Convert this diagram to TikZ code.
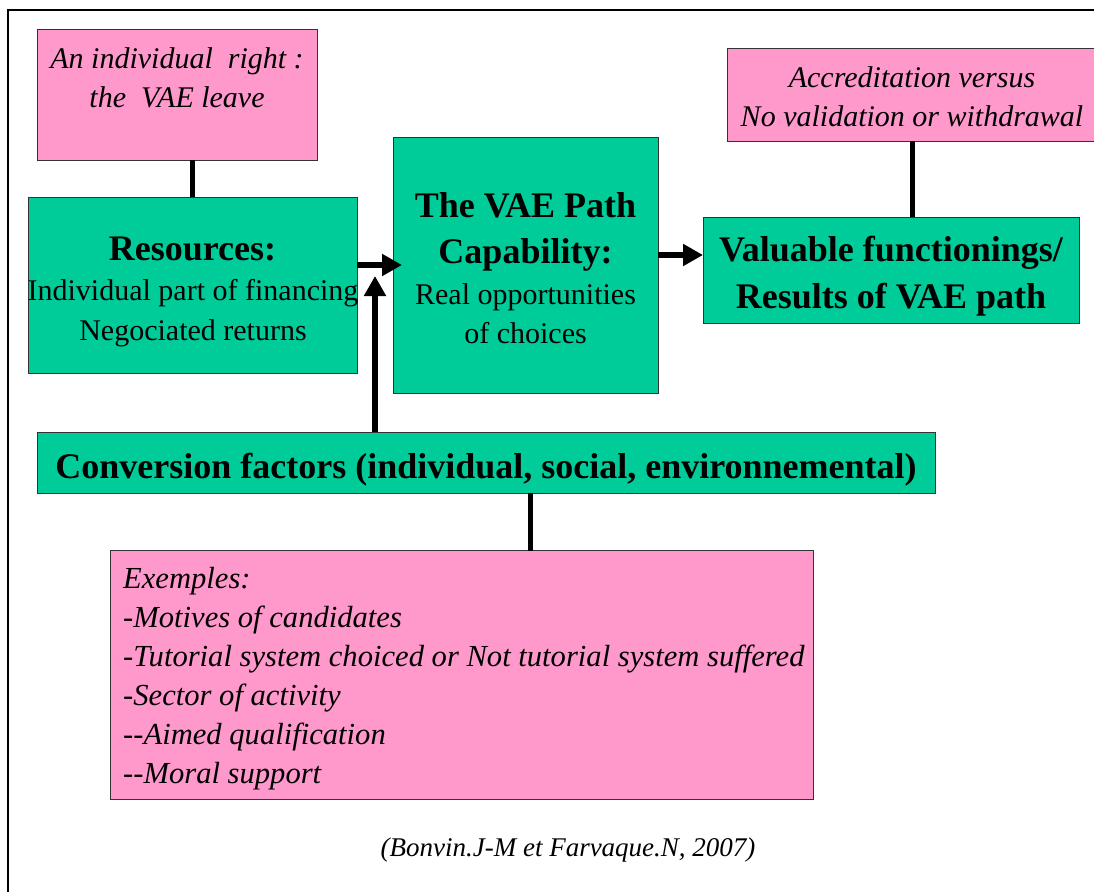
\documentclass[tikz,border=0pt]{standalone}
\usepackage{fontspec}
\setmainfont{Liberation Serif}
\usetikzlibrary{arrows.meta}
\definecolor{vgreen}{HTML}{00CC99}
\definecolor{vpink}{HTML}{FF99CC}
\definecolor{edge}{HTML}{333333}
\begin{document}
\begin{tikzpicture}[x=1pt,y=-1pt,
  box/.style={draw=edge, line width=1pt, inner sep=0pt, outer sep=0pt},
  gbox/.style={box, fill=vgreen},
  pbox/.style={box, fill=vpink},
  linkline/.style={line width=5pt},
  arr/.style={line width=5.5pt, -{Triangle[length=20pt,width=21pt]}},
  bt/.style={anchor=base, inner sep=0pt, font=\fontsize{36}{40}\selectfont\bfseries},
  rt/.style={anchor=base, inner sep=0pt, font=\fontsize{30}{36}\selectfont},
  itx/.style={anchor=base, inner sep=0pt, font=\fontsize{30}{36}\selectfont\itshape},
  itl/.style={anchor=base west, inner sep=0pt, font=\fontsize{30.6}{36}\selectfont\itshape},
  cit/.style={anchor=base, inner sep=0pt, font=\fontsize{27}{32}\selectfont\itshape},
]
\useasboundingbox (0,0) rectangle (1094,891);
\fill[white] (0,0) rectangle (1094,891);
\clip (0,0) rectangle (1094,891);
% outer frame (open to the right and bottom)
\draw[line width=2pt] (8,10) rectangle (1200,1000);

% boxes
\node[pbox, minimum width=280pt, minimum height=130pt] (p1) at (177,95) {};
\node[gbox, minimum width=329pt, minimum height=176pt] (res) at (192.5,285) {};
\node[gbox, minimum width=265pt, minimum height=256pt] (vae) at (525.5,265) {};
\node[gbox, minimum width=376pt, minimum height=106pt] (val) at (891,270) {};
\node[pbox, minimum width=370pt, minimum height=92pt] (p2) at (912,95) {};
\node[gbox, minimum width=898pt, minimum height=61pt] (conv) at (486,462.5) {};
\node[pbox, minimum width=703pt, minimum height=249pt] (ex) at (461.5,675) {};

% texts
\node[itx] (p1a) at (177,68) {An individual\ \ right :};
\node[itx] (p1b) at (177,107) {the\ \ VAE leave};

\node[bt] (resa) at (192.5,260) {Resources:};
\node[rt] (resb) at (193,300) {Individual part of financing};
\node[rt] (resc) at (193,340) {Negociated returns};

\node[bt] (vaea) at (525.5,217) {The VAE Path};
\node[bt] (vaeb) at (525.5,263) {Capability:};
\node[rt] (vaec) at (525.5,304) {Real opportunities};
\node[rt] (vaed) at (525.5,343) {of choices};

\node[bt] (vala) at (891,261) {Valuable functionings/};
\node[bt] (valb) at (891,308) {Results of VAE path};

\node[itx] (p2a) at (912,88) {Accreditation versus};
\node[itx] (p2b) at (912,126) {No validation or withdrawal};

\node[bt] (conva) at (486,478) {Conversion factors (individual, social, environnemental)};

\node[itl] (exa) at (123,588) {Exemples:};
\node[itl] (exb) at (123,627) {-Motives of candidates};
\node[itl] (exc) at (123,666) {-Tutorial system choiced or Not tutorial system suffered};
\node[itl] (exd) at (123,705) {-Sector of activity};
\node[itl] (exe) at (123,744) {-{}-Aimed qualification};
\node[itl] (exf) at (123,783) {-{}-Moral support};

\node[cit] (cite) at (568,856) {(Bonvin.J-M et Farvaque.N, 2007)};

% connectors
\coordinate (uptip) at (375,276);
\coordinate (lk) at (530,520);
\draw[linkline] (res.north) -- (res.north |- p1.south);
\draw[linkline] (p2.south) -- (p2.south |- val.north);
\draw[linkline] (conv.south -| lk) -- (ex.north -| lk);
\draw[arr] ([yshift=20pt]res.east) -- ([xshift=9pt]vae.west);
\draw[arr] ([yshift=10pt]vae.east) -- ([yshift=10pt]vae.east -| val.west);
\draw[arr] (conv.north -| uptip) -- (uptip);
\end{tikzpicture}
\end{document}
